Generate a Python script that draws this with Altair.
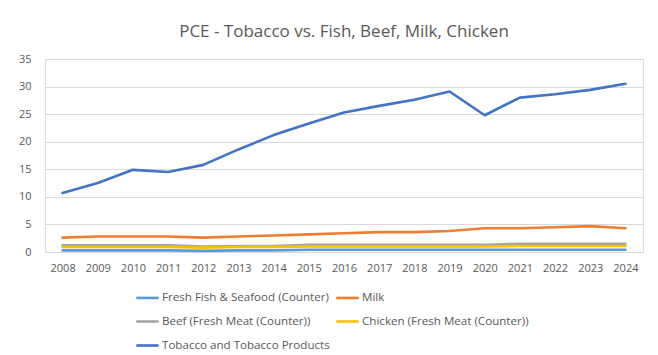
import altair as alt
import pandas as pd

years = [str(y) for y in range(2008, 2025)]
fish = [0.3, 0.3, 0.3, 0.3, 0.2, 0.3, 0.3, 0.4, 0.4, 0.4, 0.4, 0.4, 0.4, 0.4, 0.4, 0.4, 0.4]
milk = [2.6, 2.8, 2.8, 2.8, 2.6, 2.8, 3.0, 3.2, 3.4, 3.6, 3.6, 3.8, 4.3, 4.3, 4.5, 4.7, 4.3]
beef = [1.2, 1.2, 1.2, 1.2, 1.0, 1.1, 1.1, 1.3, 1.3, 1.3, 1.3, 1.3, 1.3, 1.5, 1.5, 1.5, 1.5]
chicken = [0.9, 0.9, 0.9, 0.9, 0.8, 0.9, 0.9, 1.0, 1.0, 1.0, 1.0, 1.0, 1.0, 1.1, 1.1, 1.1, 1.1]
tobacco = [10.7, 12.5, 14.9, 14.5, 15.8, 18.6, 21.2, 23.3, 25.3, 26.5, 27.6, 29.1, 24.8, 28.0, 28.6, 29.4, 30.5]

series_names = [
    "Fresh Fish & Seafood (Counter)",
    "Milk",
    "Beef (Fresh Meat (Counter))",
    "Chicken (Fresh Meat (Counter))",
    "Tobacco and Tobacco Products",
]
series_values = [fish, milk, beef, chicken, tobacco]
colors = ["#5B9BD5", "#ED7D31", "#A5A5A5", "#FFC000", "#4472C4"]

rows = []
for name, vals in zip(series_names, series_values):
    for yr, v in zip(years, vals):
        rows.append({"Year": yr, "Value": v, "Series": name})
df = pd.DataFrame(rows)

FONT = "Open Sans"
TXT = "#595959"

chart = (
    alt.Chart(df)
    .mark_line(strokeWidth=2.6, strokeCap="round", strokeJoin="round")
    .encode(
        x=alt.X(
            "Year:O",
            sort=years,
            scale=alt.Scale(paddingOuter=0.5, paddingInner=0),
            axis=alt.Axis(
                title=None, labelAngle=0, domain=True, domainColor="#D9D9D9",
                ticks=False, labelPadding=10, labelFontSize=11, labelColor=TXT,
                labelFont=FONT, grid=False,
            ),
        ),
        y=alt.Y(
            "Value:Q",
            scale=alt.Scale(domain=[0, 35], nice=False),
            axis=alt.Axis(
                title=None, values=[0, 5, 10, 15, 20, 25, 30, 35], domain=False,
                ticks=False, labelPadding=14, labelFontSize=11, labelColor=TXT,
                labelFont=FONT, gridColor="#D9D9D9", gridWidth=1,
            ),
        ),
        color=alt.Color(
            "Series:N",
            sort=series_names,
            scale=alt.Scale(domain=series_names, range=colors),
            legend=alt.Legend(
                title=None, orient="none", legendX=90, legendY=226,
                columns=2, direction="horizontal",
                symbolType="stroke", symbolSize=500, symbolStrokeWidth=2.6,
                labelFontSize=11.6, labelColor=TXT, labelFont=FONT, labelLimit=400,
                rowPadding=5, columnPadding=1, labelOffset=2,
            ),
        ),
        order=alt.Order("Year:O"),
    )
    .properties(
        width=598,
        height=193,
        title=alt.TitleParams(
            "PCE - Tobacco vs. Fish, Beef, Milk, Chicken",
            fontSize=17, font=FONT, fontWeight="normal", color=TXT,
            anchor="middle", offset=12,
        ),
        autosize=alt.AutoSizeParams(type="none"),
        padding={"left": 45, "top": 59, "right": 15, "bottom": 103},
    )
    .configure_view(stroke=None)
    .configure(background="white")
)

chart.save("out.html", embed_options={"renderer": "svg", "actions": False})
